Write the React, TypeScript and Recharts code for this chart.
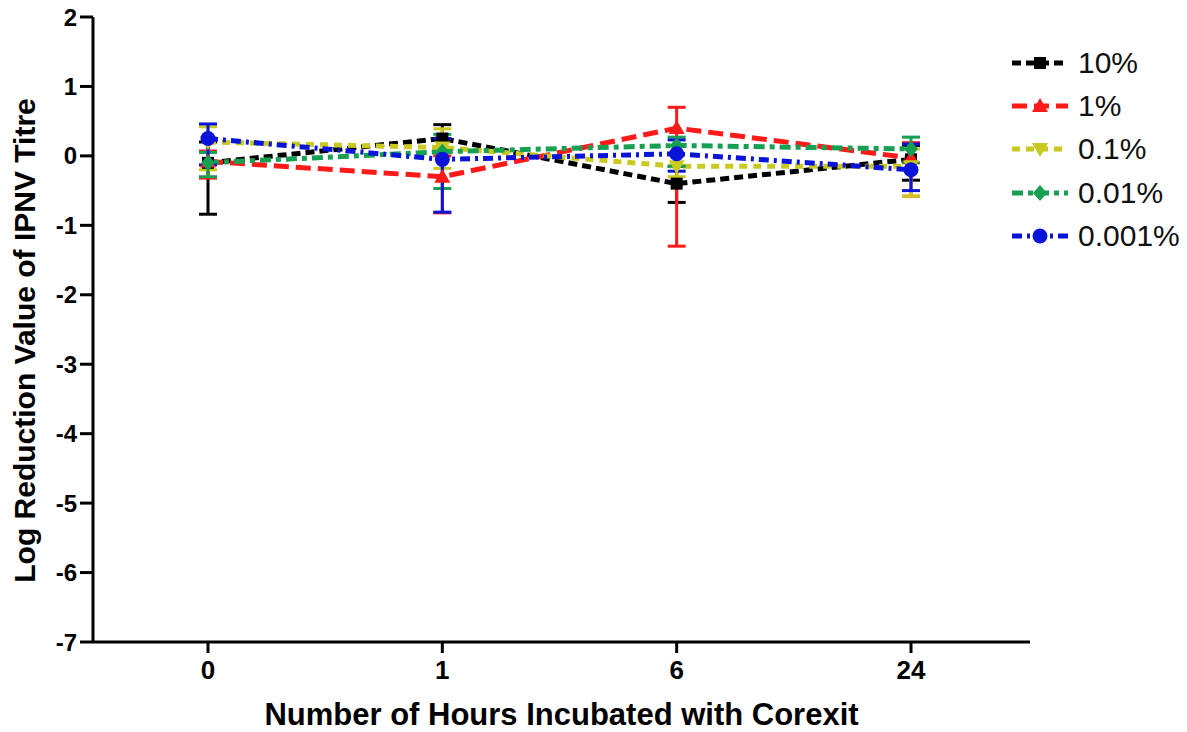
import React from 'react';
import { LineChart, Line, XAxis, YAxis, ErrorBar } from 'recharts';

// hours on the x axis
const hours = ['0', '1', '6', '24'];

// series names (Corexit concentration)
const seriesNames = ['10%', '1%', '0.1%', '0.01%', '0.001%'];

// mean log reduction per series, one value per hour
const mean10 = [-0.1, 0.25, -0.4, -0.05];
const mean1 = [-0.08, -0.3, 0.4, -0.03];
const mean01 = [0.2, 0.12, -0.15, -0.15];
const mean001 = [-0.1, 0.06, 0.15, 0.1];
const mean0001 = [0.25, -0.05, 0.03, -0.2];

// error bars as [below, above]
const err10: [number, number][] = [[0.74, 0.3], [0.2, 0.2], [0.27, 0.25], [0.3, 0.2]];
const err1: [number, number][] = [[0.24, 0.15], [0.52, 0.3], [1.7, 0.3], [0.55, 0.22]];
const err01: [number, number][] = [[0.4, 0.22], [0.3, 0.27], [0.15, 0.3], [0.43, 0.25]];
const err001: [number, number][] = [[0.2, 0.15], [0.53, 0.25], [0.3, 0.12], [0.2, 0.17]];
const err0001: [number, number][] = [[0.38, 0.21], [0.76, 0.3], [0.25, 0.2], [0.3, 0.37]];

const yTicks = [2, 1, 0, -1, -2, -3, -4, -5, -6, -7];

const means = [mean10, mean1, mean01, mean001, mean0001];
const errs = [err10, err1, err01, err001, err0001];
const colors = ['#000000', '#ff1a1a', '#c9c920', '#17a052', '#0a14d8'];
const dashes = ['9 5', '15 7', '8 6', '11 5 5 5', '10 5 3 5'];
const shapes = ['square', 'triangle', 'triangleDown', 'diamond', 'circle'];

const data = hours.map((h, i) => {
    const row: any = { hour: h };
    means.forEach((m, s) => {
        row['s' + s] = m[i];
        row['e' + s] = errs[s][i];
    });
    return row;
});

const font = '"Liberation Sans", Arial, sans-serif';

function Marker({ shape, cx, cy, color }: { shape: string; cx: number; cy: number; color: string }) {
    if (shape === 'square') return <rect x={cx - 6} y={cy - 6} width={12} height={12} fill={color} />;
    if (shape === 'triangle')
        return <path d={`M${cx},${cy - 8} L${cx + 8},${cy + 6} L${cx - 8},${cy + 6} Z`} fill={color} />;
    if (shape === 'triangleDown')
        return <path d={`M${cx},${cy + 8} L${cx + 8},${cy - 6} L${cx - 8},${cy - 6} Z`} fill={color} />;
    if (shape === 'diamond')
        return <path d={`M${cx},${cy - 8} L${cx + 7},${cy} L${cx},${cy + 8} L${cx - 7},${cy} Z`} fill={color} />;
    return <circle cx={cx} cy={cy} r={7.5} fill={color} />;
}

const makeDot = (s: number) => (props: any) => {
    const { cx, cy, index } = props;
    if (cx == null || cy == null) return <g key={`d${s}-${index}`} />;
    return (
        <g key={`d${s}-${index}`}>
            <Marker shape={shapes[s]} cx={cx} cy={cy} color={colors[s]} />
        </g>
    );
};

// rotated y axis title, a bit below the plot centre like the original
const YTitle = (props: any) => {
    const vb = props.viewBox || {};
    const cy = (vb.y || 0) + (vb.height || 0) / 2 + 11;
    return (
        <text
            x={24}
            y={cy}
            transform={`rotate(-90, 24, ${cy})`}
            textAnchor="middle"
            dominantBaseline="central"
            fill="#000"
            fontSize={30}
            fontWeight="bold"
            fontFamily={font}
        >
            Log Reduction Value of IPNV Titre
        </text>
    );
};

const App: React.FC = () => {
    return (
        <div style={{ position: 'absolute', left: 0, top: 0, width: 1187, height: 732, background: '#fff', fontFamily: font }}>
            <LineChart width={1187} height={732} data={data} margin={{ top: 17, right: 157, bottom: 0, left: 0 }}>
                <XAxis
                    dataKey="hour"
                    type="category"
                    padding={{ left: 115, right: 119 }}
                    height={90}
                    stroke="#000"
                    strokeWidth={3}
                    tickSize={11}
                    tickMargin={8}
                    tick={{ fill: '#000', fontSize: 26, fontWeight: 'bold', fontFamily: font }}
                    label={{
                        value: 'Number of Hours Incubated with Corexit',
                        position: 'insideBottom',
                        offset: 7,
                        style: { fill: '#000', fontSize: 31, fontWeight: 'bold', fontFamily: font }
                    }}
                />
                <YAxis
                    domain={[-7, 2]}
                    ticks={yTicks}
                    width={93}
                    stroke="#000"
                    strokeWidth={3}
                    tickSize={13}
                    tickMargin={3}
                    interval={0}
                    tick={{ fill: '#000', fontSize: 24, fontWeight: 'bold', fontFamily: font }}
                    label={{ content: YTitle }}
                />
                {seriesNames.map((name, s) => (
                    <Line
                        key={name}
                        name={name}
                        dataKey={'s' + s}
                        stroke={colors[s]}
                        strokeWidth={5}
                        strokeDasharray={dashes[s]}
                        dot={makeDot(s)}
                        activeDot={false}
                        isAnimationActive={false}
                    >
                        <ErrorBar dataKey={'e' + s} direction="y" width={9} strokeWidth={3} stroke={colors[s]} />
                    </Line>
                ))}
            </LineChart>
            {/* legend */}
            <div style={{ position: 'absolute', left: 1010, top: 41 }}>
                {seriesNames.map((name, s) => (
                    <div key={name} style={{ display: 'flex', alignItems: 'center', height: 43.3 }}>
                        <svg width={62} height={24}>
                            <line x1={2} y1={12} x2={58} y2={12} stroke={colors[s]} strokeWidth={5} strokeDasharray={dashes[s]} />
                            <Marker shape={shapes[s]} cx={30} cy={12} color={colors[s]} />
                        </svg>
                        <span style={{ marginLeft: 6, fontSize: 30, color: '#111', lineHeight: 1 }}>{name}</span>
                    </div>
                ))}
            </div>
        </div>
    );
};

export default App;
